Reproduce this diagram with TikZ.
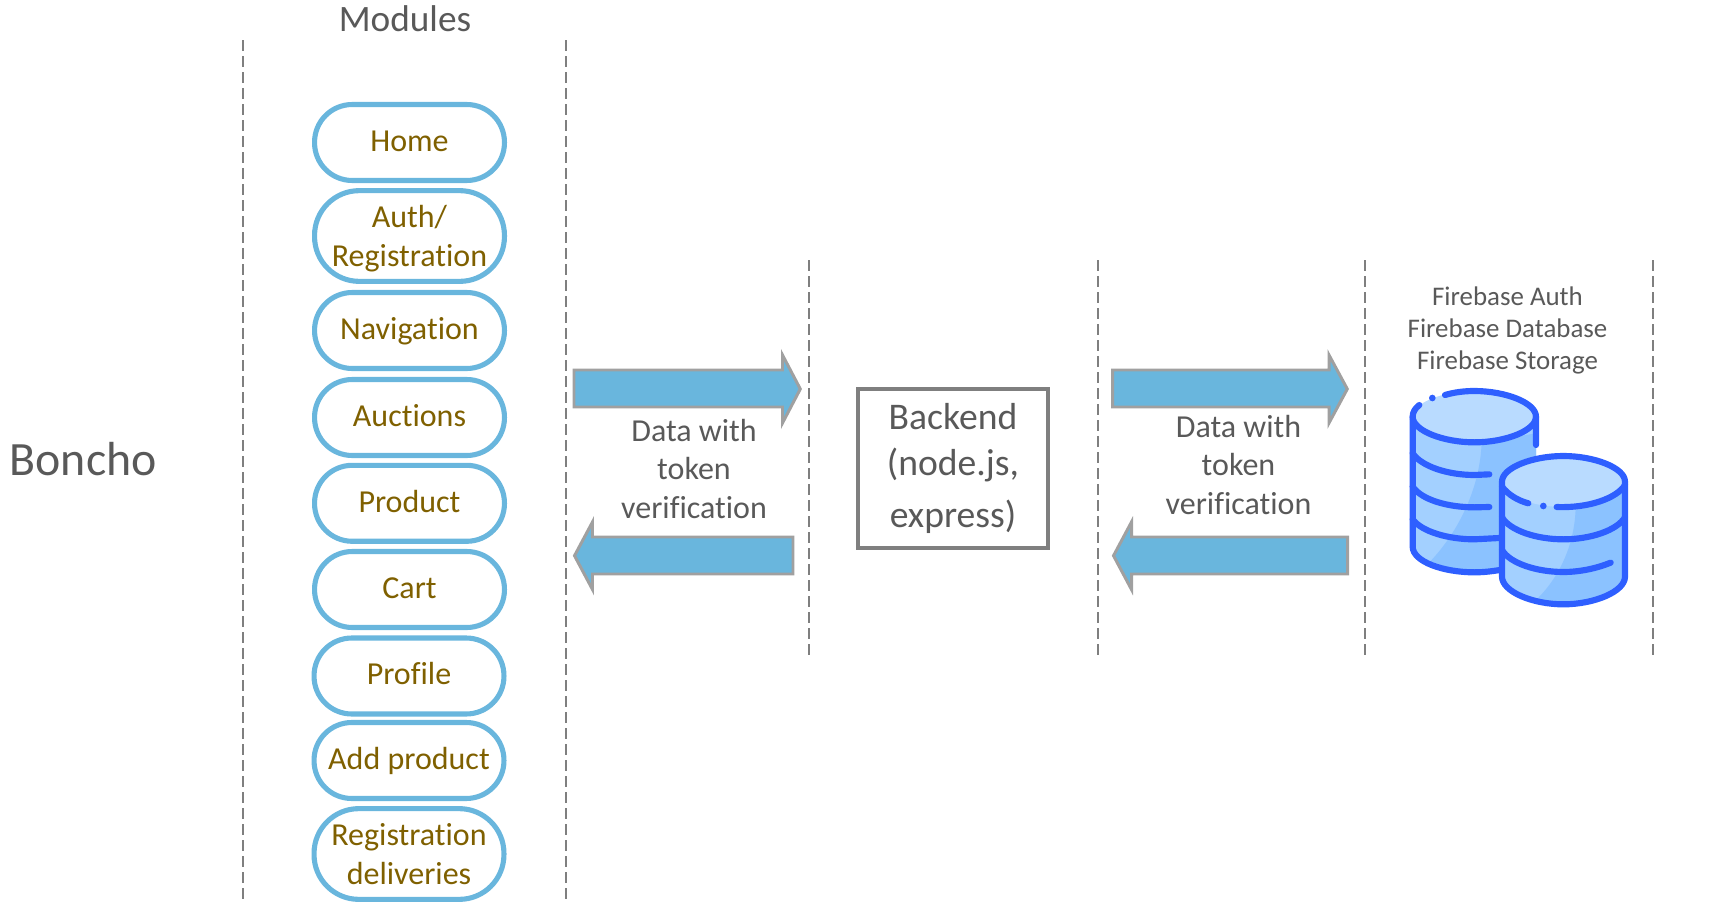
\documentclass[tikz,border=0pt]{standalone}
\usepackage{fontspec}
\setmainfont[Ligatures=NoCommon]{Carlito}
\definecolor{bluefill}{HTML}{69B6DD}
\definecolor{arrowgray}{HTML}{A0A0A0}
\definecolor{textgray}{HTML}{595959}
\definecolor{modgold}{HTML}{7F6000}
\definecolor{dashgray}{HTML}{7F7F7F}
\definecolor{dbstroke}{HTML}{2E5FFF}
\definecolor{dbtop}{HTML}{B9DBFF}
\definecolor{dblight}{HTML}{A3D0FF}
\definecolor{dbdark}{HTML}{8BC2FF}
\tikzset{
  module/.style={draw=bluefill, line width=1.45pt, minimum width=54pt, align=center, inner sep=0pt, text=modgold, font=\fontsize{9.1}{10.9}\selectfont},
  moduleone/.style={module, rounded corners=10.7pt, minimum height=21.6pt, text height=5.1pt, text depth=0pt},
  moduletwo/.style={module, rounded corners=12.7pt, minimum height=25.8pt, text depth=0pt},
  divider/.style={dashgray, line width=0.4pt, dash pattern=on 3pt off 1.55pt},
  blockarrow/.style={draw=arrowgray, fill=bluefill, line width=0.85pt, line join=miter},
  label/.style={text=textgray, align=center, inner sep=0pt},
  dbline/.style={draw=dbstroke, line width=1.75pt, line cap=round, line join=round}
}
\begin{document}
\begin{tikzpicture}[x=0.01cm, y=-0.01cm]
    \useasboundingbox (0,0) rectangle (1720,906);

    % Dashed dividers
    \draw[divider] (243,40) -- (243,900);
    \draw[divider] (566,40) -- (566,900);
    \draw[divider] (809,260) -- (809,657);
    \draw[divider] (1098,260) -- (1098,657);
    \draw[divider] (1365,260) -- (1365,657);
    \draw[divider] (1653,260) -- (1653,657);

    % Titles
    \node[label, font=\fontsize{13.6}{16}\selectfont, anchor=west] (boncho) at (9,459) {Boncho};
    \node[label, font=\fontsize{10.6}{13}\selectfont] (modules) at (405,19) {Modules};

    % Modules column
    \node[moduleone] (home) at (409.5,142.5) {Home};
    \node[moduletwo] (auth) at (409.5,236) {Auth/\\Registration};
    \node[moduleone] (navigation) at (409.5,330.5) {Navigation};
    \node[moduleone] (auctions) at (409.5,417.5) {Auctions};
    \node[moduleone] (product) at (409.5,503.3) {Product};
    \node[moduleone] (cart) at (409.5,589.5) {Cart};
    \node[moduleone] (profile) at (409,676) {Profile};
    \node[moduleone] (addproduct) at (409,760.5) {Add product};
    \node[moduletwo] (deliveries) at (409,854) {Registration\\deliveries};

    % First pair of arrows
    \draw[blockarrow] (574,370) -- (782.5,370) -- (782.5,355) -- (800.3,389) -- (782.5,423) -- (782.5,407) -- (574,407) -- cycle;
    \draw[blockarrow] (793,537) -- (592.5,537) -- (592.5,522) -- (574.5,555.7) -- (592.5,589.5) -- (592.5,574) -- (793,574) -- cycle;
    \node[label, font=\fontsize{9.1}{10.95}\selectfont] (dataone) at (694,469) {Data with\\token\\verification};

    % Backend box
    \node[draw=dashgray, line width=1.15pt, minimum width=54pt, minimum height=45.3pt, inner sep=0pt, align=center, text=textgray, font=\fontsize{10.7}{13}\selectfont] (backend) at (953,468.6) {Backend\\(node.js,\\[2pt]express)};

    % Second pair of arrows
    \draw[blockarrow] (1112.5,370) -- (1329,370) -- (1329,355) -- (1347.3,389) -- (1329,423) -- (1329,407) -- (1112.5,407) -- cycle;
    \draw[blockarrow] (1347.5,537) -- (1131.5,537) -- (1131.5,522) -- (1113.5,555.7) -- (1131.5,589.5) -- (1131.5,574) -- (1347.5,574) -- cycle;
    \node[label, font=\fontsize{9.1}{10.95}\selectfont] (datatwo) at (1238.5,465) {Data with\\token\\verification};

    % Firebase services
    \node[label, font=\fontsize{7.65}{9.1}\selectfont] (firebase) at (1507.5,330) {Firebase Auth\\Firebase Database\\Firebase Storage};

    % Database icon, coordinates from the 3x crop
    \begin{scope}[shift={(1380,260)}, scale=1/3]
        % Large cylinder
        \fill[dblight] (98,470) -- (98,860) .. controls (98,905) and (190,937) .. (283,937) .. controls (376,937) and (468,905) .. (468,860) -- (468,470) -- cycle;
        \fill[dbdark] (305,547) .. controls (300,680) and (240,810) .. (150,905) .. controls (190,930) and (240,937) .. (283,937) .. controls (376,937) and (468,905) .. (468,860) -- (468,520) -- cycle;
        \fill[dbtop] (98,470) .. controls (98,428) and (190,393) .. (283,393) .. controls (376,393) and (468,428) .. (468,470) .. controls (468,512) and (376,547) .. (283,547) .. controls (190,547) and (98,512) .. (98,470) -- cycle;
        \draw[dbline] (118,435) .. controls (105,445) and (98,457) .. (98,470) -- (98,860) .. controls (98,905) and (190,937) .. (283,937) .. controls (310,937) and (335,934) .. (360,930);
        \draw[dbline] (195,405) .. controls (222,397) and (252,393) .. (283,393) .. controls (376,393) and (468,428) .. (468,470) -- (468,555);
        \fill[dbstroke] (157,414) circle (10);
        \draw[dbline] (98,470) .. controls (98,512) and (190,547) .. (283,547) .. controls (376,547) and (468,512) .. (468,470);
        \draw[dbline] (98,580) .. controls (125,620) and (205,645) .. (283,645) -- (328,643);
        \draw[dbline] (98,680) .. controls (125,720) and (205,742) .. (283,742) -- (328,741);
        \draw[dbline] (98,778) .. controls (125,815) and (205,838) .. (283,838) -- (358,834);
        % Small cylinder
        \fill[white] (366,665) -- (366,950) -- (735,950) -- (735,665) -- cycle;
        \fill[dblight] (366,665) -- (366,950) .. controls (366,995) and (458,1033) .. (550,1033) .. controls (642,1033) and (735,995) .. (735,950) -- (735,665) -- cycle;
        \fill[dbdark] (587,741) .. controls (585,850) and (540,950) .. (470,1018) .. controls (495,1028) and (525,1033) .. (550,1033) .. controls (642,1033) and (735,995) .. (735,950) -- (735,690) -- cycle;
        \fill[dbtop] (366,665) .. controls (366,623) and (458,588) .. (550,588) .. controls (642,588) and (735,623) .. (735,665) .. controls (735,707) and (642,741) .. (550,741) .. controls (458,741) and (366,707) .. (366,665) -- cycle;
        \draw[dbline] (366,665) .. controls (366,623) and (458,588) .. (550,588) .. controls (642,588) and (735,623) .. (735,665) -- (735,950) .. controls (735,995) and (642,1033) .. (550,1033) .. controls (458,1033) and (366,995) .. (366,950) -- cycle;
        \draw[dbline] (366,680) .. controls (385,705) and (415,722) .. (445,730);
        \fill[dbstroke] (490,738) circle (10);
        \draw[dbline] (530,741) .. controls (625,745) and (710,715) .. (735,675);
        \draw[dbline] (366,772) .. controls (390,812) and (470,838) .. (550,838) .. controls (630,838) and (710,812) .. (735,772);
        \draw[dbline] (366,870) .. controls (390,910) and (470,936) .. (550,936) .. controls (600,936) and (650,925) .. (692,908);
    \end{scope}
\end{tikzpicture}
\end{document}
